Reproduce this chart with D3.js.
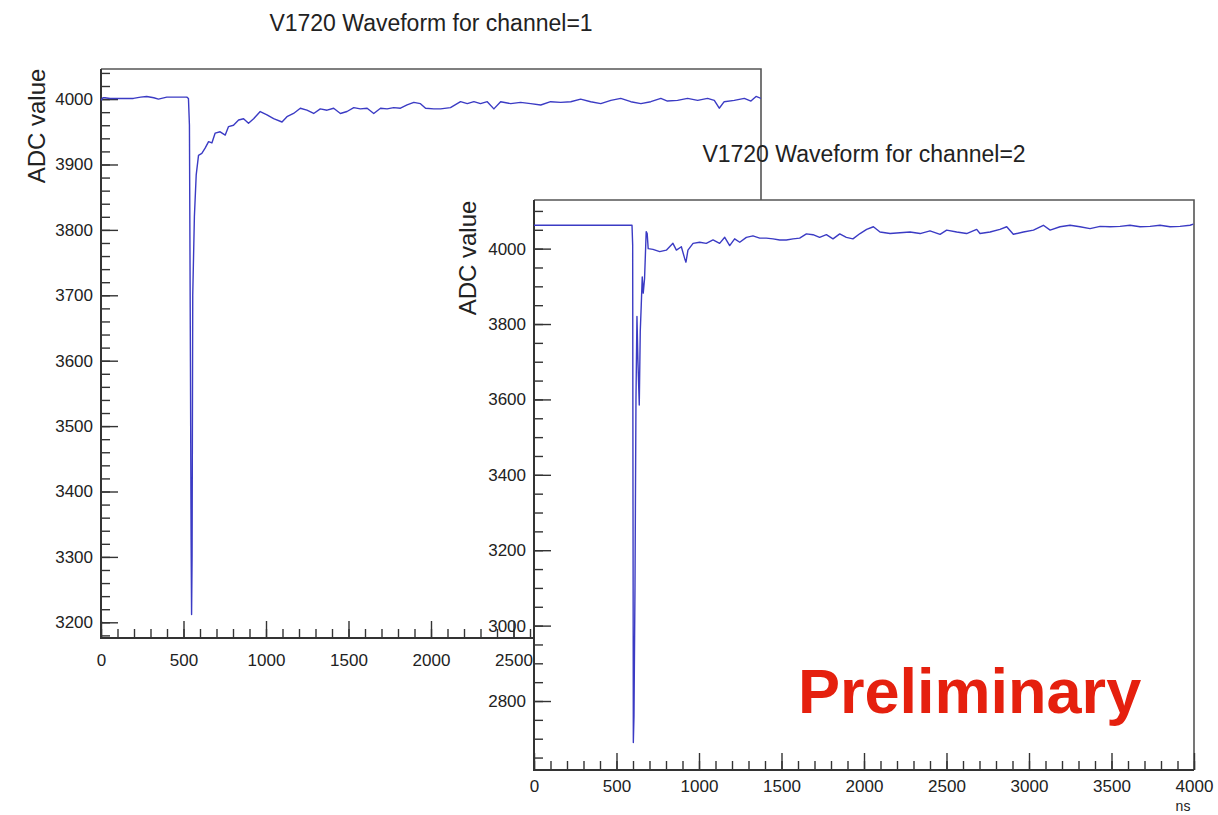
<!DOCTYPE html>
<html><head><meta charset="utf-8">
<script src="https://cdn.jsdelivr.net/npm/d3@7"></script>
<style>
html,body{margin:0;padding:0;background:#fff;}
svg{display:block;}
text{font-family:"Liberation Sans",Arial,Helvetica,sans-serif;fill:#222;}
</style></head>
<body>
<svg id="chart" width="1218" height="815"></svg>
<script>
// ---------- data ----------
const ch1Time = [0,12,24,55,120,196,240,277,320,348,399,470,520,530,536,542,546,549,552,556,566,577,591,611,631,652,672,692,722,753,773,803,834,864,894,925,965,1006,1046,1097,1127,1167,1208,1248,1289,1329,1370,1410,1451,1491,1532,1572,1613,1653,1694,1734,1774,1815,1855,1896,1936,1967,2017,2058,2118,2179,2220,2260,2300,2341,2381,2422,2483,2543,2604,2665,2725,2786,2847,2907,2968,3029,3090,3150,3211,3272,3332,3393,3433,3494,3555,3616,3676,3717,3747,3777,3838,3899,3939,3970,4000];
const ch1Adc  = [3998,4002,4002,4001,4001,4001,4003,4004,4002,4000,4003,4003,4003,4001,3960,3600,3330,3212,3300,3700,3820,3884,3914,3917,3925,3935,3933,3948,3950,3945,3958,3960,3968,3970,3963,3970,3981,3976,3970,3965,3973,3978,3986,3983,3978,3985,3983,3986,3978,3981,3987,3985,3986,3978,3986,3985,3987,3986,3991,3995,3993,3986,3985,3985,3987,3996,3993,3996,3993,3996,3985,3996,3993,3995,3993,3991,3996,3995,3996,4000,3996,3993,3998,4001,3996,3993,3996,4001,3997,3998,4001,3998,4001,3998,3986,3996,3998,4001,3997,4004,4001];

const ch2Time = [0,100,300,500,594,598,602,606,612,618,624,630,638,644,650,656,662,670,680,686,692,721,762,802,842,863,893,913,921,933,964,1004,1044,1085,1125,1156,1186,1216,1247,1287,1327,1368,1408,1449,1489,1529,1570,1610,1651,1691,1731,1772,1812,1853,1893,1933,1976,2016,2057,2097,2158,2218,2279,2340,2400,2461,2501,2562,2622,2683,2703,2764,2824,2865,2905,2966,3027,3087,3128,3188,3249,3309,3370,3431,3491,3552,3612,3673,3734,3794,3855,3915,3976,3996];
const ch2Adc  = [4062,4062,4062,4062,4062,4010,2690,2760,3100,3600,3820,3700,3585,3780,3850,3925,3882,3920,4045,4040,4000,3998,3992,3996,4014,3996,4005,3974,3964,3996,4014,4017,4014,4023,4014,4030,4008,4026,4017,4030,4034,4028,4028,4026,4023,4023,4026,4028,4039,4037,4030,4037,4026,4039,4030,4026,4040,4051,4058,4044,4040,4042,4044,4040,4047,4038,4049,4044,4040,4051,4040,4044,4051,4058,4038,4044,4049,4062,4049,4058,4062,4058,4053,4059,4058,4059,4062,4058,4059,4062,4058,4059,4062,4065];

const xMajorTicks = [0,500,1000,1500,2000,2500,3000,3500,4000];
const ch1YMajorTicks = [3200,3300,3400,3500,3600,3700,3800,3900,4000];
const ch2YMajorTicks = [2800,3000,3200,3400,3600,3800,4000];
const ch1Title = "V1720 Waveform for channel=1";
const ch2Title = "V1720 Waveform for channel=2";
const yAxisTitle = "ADC value";
const xAxisUnit = "ns";
const stamp = "Preliminary";

// ---------- drawing ----------
const svg = d3.select("#chart");
svg.append("rect").attr("width",1218).attr("height",815).attr("fill","#fff");

function range(a,b,s){const r=[];for(let v=a;v<=b+1e-9;v+=s)r.push(Math.round(v*100)/100);return r;}
const LABEL_FS = 17;

function drawPanel(cfg){
  const g = svg.append("g");
  const x = d3.scaleLinear().domain([0,4000]).range([cfg.left,cfg.right]);
  const y = d3.scaleLinear().domain(cfg.yDomain).range([cfg.bottom,cfg.top]);
  if(cfg.whiteOut){
    g.append("rect").attr("x",cfg.left-1).attr("y",cfg.top)
     .attr("width",cfg.right-cfg.left+1).attr("height",cfg.bottom-cfg.top).attr("fill","#fff");
  }
  g.append("path").attr("d",`M${cfg.left},${cfg.top}H${cfg.right}V${cfg.bottom}`)
   .attr("fill","none").attr("stroke","#555").attr("stroke-width",1.6);

  const clipId = "clip"+cfg.id;
  svg.append("clipPath").attr("id",clipId).append("rect")
    .attr("x",cfg.left).attr("y",cfg.top).attr("width",cfg.right-cfg.left).attr("height",cfg.bottom-cfg.top);

  const yMinor = range(cfg.yMinorStart, cfg.yDomain[1], cfg.yMinorStep).filter(v=>v>=cfg.yDomain[0]);
  g.append("g").attr("transform",`translate(${cfg.left},0)`)
    .call(d3.axisLeft(y).tickValues(yMinor).tickSizeInner(-9).tickSizeOuter(0).tickFormat(""))
    .call(a=>a.select(".domain").remove())
    .call(a=>a.selectAll("line").attr("stroke","#333").attr("stroke-width",1.4));
  const xMinor = range(0,4000,100);
  g.append("g").attr("transform",`translate(0,${cfg.bottom})`)
    .call(d3.axisBottom(x).tickValues(xMinor).tickSizeInner(-9).tickSizeOuter(0).tickFormat(""))
    .call(a=>a.select(".domain").remove())
    .call(a=>a.selectAll("line").attr("stroke","#333").attr("stroke-width",1.4));

  const ya = g.append("g").attr("transform",`translate(${cfg.left},0)`)
    .call(d3.axisLeft(y).tickValues(cfg.yTicks).tickSizeInner(-17).tickSizeOuter(0).tickPadding(8).tickFormat(d3.format("d")))
    .call(a=>a.select(".domain").remove());
  ya.selectAll("line").attr("stroke","#333").attr("stroke-width",1.4);
  ya.selectAll("text").attr("font-size",LABEL_FS).attr("fill","#222").style("font-family","Liberation Sans, Arial, sans-serif");

  const xa = g.append("g").attr("transform",`translate(0,${cfg.bottom})`)
    .call(d3.axisBottom(x).tickValues(xMajorTicks).tickSizeInner(-17).tickSizeOuter(0).tickPadding(cfg.xPad).tickFormat(d3.format("d")))
    .call(a=>a.select(".domain").remove());
  xa.selectAll("line").attr("stroke","#333").attr("stroke-width",1.4);
  xa.selectAll("text").attr("font-size",LABEL_FS).attr("fill","#222").style("font-family","Liberation Sans, Arial, sans-serif");

  g.append("path").attr("d",`M${cfg.left},${cfg.top}V${cfg.bottom}H${cfg.right}`)
   .attr("fill","none").attr("stroke","#333").attr("stroke-width",2);

  const line = d3.line().x(d=>x(d[0])).y(d=>y(d[1]));
  const pts = cfg.t.map((t,i)=>[t,cfg.v[i]]);
  g.append("path").datum(pts).attr("d",line).attr("clip-path",`url(#${clipId})`)
   .attr("fill","none").attr("stroke","#3b3bc4").attr("stroke-width",1.4).attr("stroke-linejoin","round");

  svg.append("text").attr("x",cfg.titleX).attr("y",cfg.titleY).attr("text-anchor","middle")
    .attr("font-size",23).attr("fill","#222").text(cfg.title);
  svg.append("text").attr("transform",`translate(${cfg.yTitleX},${cfg.yTitleY}) rotate(-90)`)
    .attr("text-anchor","middle").attr("font-size",24).attr("fill","#222").text(yAxisTitle);
  return {x,y};
}

drawPanel({id:1,left:101,right:761,top:69,bottom:638,yDomain:[3176,4046],
  yTicks:ch1YMajorTicks,yMinorStart:3180,yMinorStep:20,xPad:16,
  t:ch1Time,v:ch1Adc,title:ch1Title,titleX:431,titleY:31,yTitleX:45,yTitleY:126});

drawPanel({id:2,whiteOut:true,left:534,right:1194,top:200,bottom:770,yDomain:[2617,4129],
  yTicks:ch2YMajorTicks,yMinorStart:2650,yMinorStep:50,xPad:10,
  t:ch2Time,v:ch2Adc,title:ch2Title,titleX:864,titleY:162,yTitleX:476,yTitleY:258});

svg.append("text").attr("x",1183).attr("y",811).attr("text-anchor","middle")
  .attr("font-size",14).attr("fill","#222").text(xAxisUnit);

svg.append("text").attr("x",798).attr("y",713).attr("font-size",63).attr("font-weight","bold")
  .style("fill","#e5200e").text(stamp);
</script>
</body></html>
